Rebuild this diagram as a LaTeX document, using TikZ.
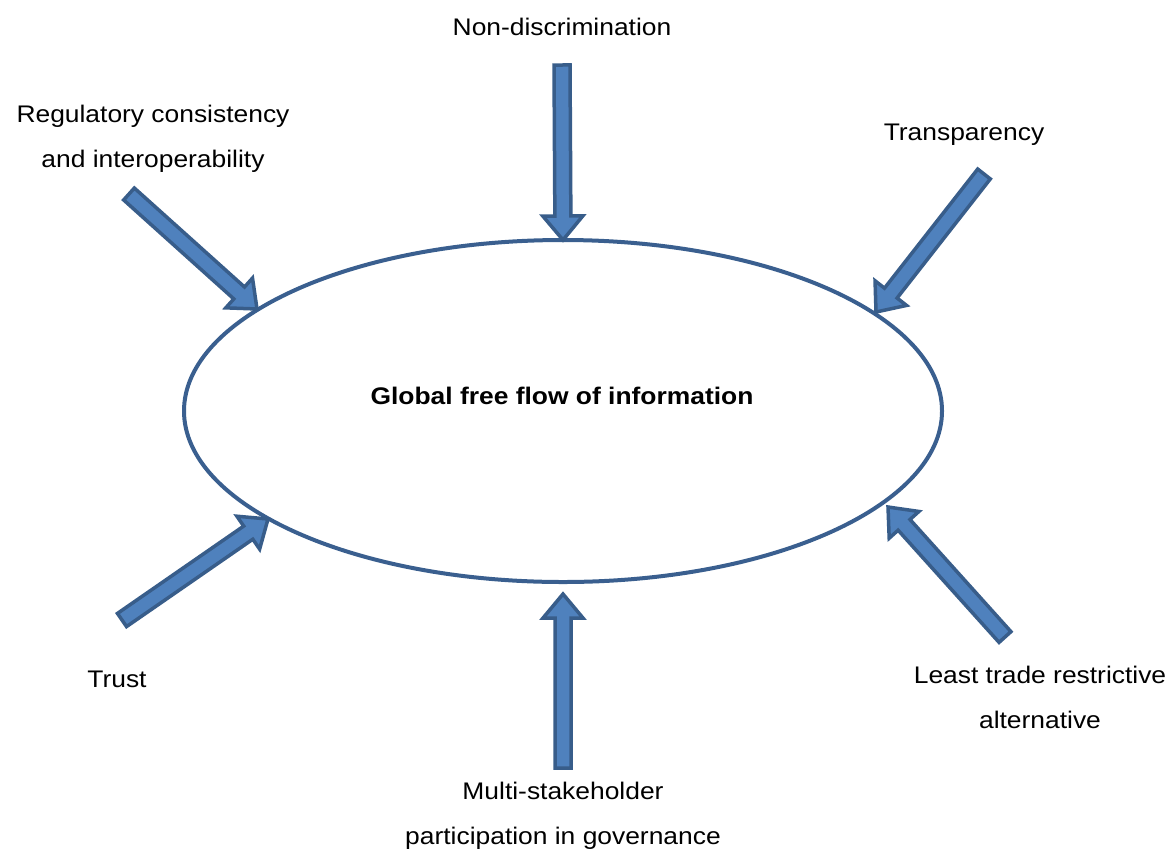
\documentclass[tikz,border=0pt]{standalone}
\usepackage{fontspec}
\setmainfont{Liberation Sans}[FakeStretch=1.1]
\usetikzlibrary{calc,shapes.geometric}
\definecolor{afill}{HTML}{4F81BD}
\definecolor{aline}{HTML}{385D8A}
\definecolor{eline}{HTML}{3A5F8F}
\tikzset{
  lbl/.style={align=center, font=\fontsize{24}{45}\selectfont, inner sep=0pt},
  blockarrow/.style={draw=aline, fill=afill, line width=3.5pt, line join=miter},
  ell/.style={draw=eline, line width=4pt, ellipse, minimum width=758pt, minimum height=342pt, inner sep=0pt}
}
% #1 tail coordinate, #2 tip coordinate
\newcommand\barr[2]{%
  \coordinate (h#1) at ($(#2)!24pt!(#1)$);
  \draw[blockarrow] ($(#1)!8pt!-90:(#2)$) -- ($(h#1)!8pt!90:(#1)$) -- ($(h#1)!20pt!90:(#1)$)
    -- (#2) -- ($(h#1)!20pt!-90:(#1)$) -- ($(h#1)!8pt!-90:(#1)$) -- ($(#1)!8pt!90:(#2)$) -- cycle;
}
\begin{document}
\begin{tikzpicture}[x=1pt,y=-1pt]
\useasboundingbox (0,0) rectangle (1174,852);
\node[ell] (E) at (563,411) {};
\node[lbl, font=\fontsize{24}{45}\selectfont\bfseries] (G) at (562,396) {Global free flow of information};
% labels
\node[lbl] (nd) at (562,27) {Non-discrimination};
\node[lbl] (rc) at (153,139) {Regulatory consistency\\and interoperability};
\node[lbl] (tr) at (964,135) {Transparency};
\node[lbl] (tu) at (117,679) {Trust};
\node[lbl] (lt) at (1040,697) {Least trade restrictive\\alternative};
\node[lbl] (ms) at (563,816) {Multi-stakeholder\\participation in governance};
% arrow ends
\coordinate (t1) at (562,65);  \coordinate (p1) at (563,240);
\coordinate (t2) at (129,194); \coordinate (p2) at (257,309);
\coordinate (t3) at (984,174); \coordinate (p3) at (876,312);
\coordinate (t4) at (122,620); \coordinate (p4) at (268,519);
\coordinate (t5) at (563,768); \coordinate (p5) at (563,594);
\coordinate (t6) at (1005,637);\coordinate (p6) at (888,507);
\barr{t1}{p1}
\barr{t2}{p2}
\barr{t3}{p3}
\barr{t4}{p4}
\barr{t5}{p5}
\barr{t6}{p6}
\end{tikzpicture}
\end{document}
